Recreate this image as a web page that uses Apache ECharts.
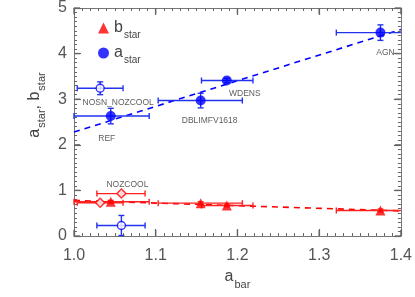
<!DOCTYPE html>
<html><head><meta charset="utf-8">
<script src="https://cdn.jsdelivr.net/npm/echarts@6/dist/echarts.min.js"></script>
<style>html,body{margin:0;padding:0;background:#fff}#c{width:415px;height:297px}</style>
</head><body><div id="c"></div>
<script>
// ---- data ----
const runLabels = ['REF', 'NOSN_NOZCOOL', 'DBLIMFV1618', 'WDENS', 'AGN', 'NOZCOOL'];
const aBar   = [1.045, 1.032, 1.155, 1.187, 1.375, 1.058];
const aBarLo = [1.000, 1.004, 1.103, 1.156, 1.321, 1.028];
const aBarHi = [1.092, 1.060, 1.206, 1.219, 1.429, 1.087];
const aStar    = [2.63, 3.24, 2.97, 3.41, 4.46, 0.23];
const aStarErr = [0.17, 0.14, 0.16, 0.05, 0.17, 0.22];
const bStar    = [0.75, 0.73, 0.72, 0.67, 0.56, 0.93];
const bStarErr = [0.03, 0.03, 0.03, 0.03, 0.03, 0.04];
const filled   = [true, false, true, true, true, false];
const labelOn  = ['a', 'a', 'a', 'a', 'a', 'b'];
const fitX = [1.0, 1.4];
const fitA = [2.28, 4.53];
const fitB = [0.78, 0.55];
const xTicks = [1.0, 1.1, 1.2, 1.3, 1.4];
const yTicks = [0, 1, 2, 3, 4, 5];

const BLUE = '#0000ff', BLUE_E = '#2233ee', RED = '#ff0000', RED_E = '#ff2020';
const AX = '#666';
const labelOffsets = {REF: [-4, 23], NOSN_NOZCOOL: [18, 14], DBLIMFV1618: [9, 20], WDENS: [18, 13], AGN: [5, 20], NOZCOOL: [6, -9]};

function errData(ys, errs) {
  return aBar.map((x, i) => [x, ys[i], aBarLo[i], aBarHi[i], ys[i] - errs[i], ys[i] + errs[i]]);
}
function pts(ys, want) {
  const out = [];
  aBar.forEach((x, i) => { if (filled[i] === want) out.push([x, ys[i]]); });
  return out;
}
function errRender(color) {
  return function (params, api) {
    const cs = params.coordSys;
    const x0 = cs.x, x1 = cs.x + cs.width, y0 = cs.y, y1 = cs.y + cs.height;
    const c = api.coord([api.value(0), api.value(1)]);
    const l = api.coord([api.value(2), api.value(1)])[0];
    const r = api.coord([api.value(3), api.value(1)])[0];
    const lo = api.coord([api.value(0), api.value(4)])[1];
    const hi = api.coord([api.value(0), api.value(5)])[1];
    const cap = 3;
    const st = {stroke: color, lineWidth: 1.4};
    const ch = [];
    const L = Math.max(l, x0), R = Math.min(r, x1);
    ch.push({type: 'line', shape: {x1: L, y1: c[1], x2: R, y2: c[1]}, style: st});
    if (l >= x0) ch.push({type: 'line', shape: {x1: l, y1: c[1] - cap, x2: l, y2: c[1] + cap}, style: st});
    if (r <= x1) ch.push({type: 'line', shape: {x1: r, y1: c[1] - cap, x2: r, y2: c[1] + cap}, style: st});
    const B = Math.min(lo, y1), T = Math.max(hi, y0);
    ch.push({type: 'line', shape: {x1: c[0], y1: B, x2: c[0], y2: T}, style: st});
    if (lo <= y1) ch.push({type: 'line', shape: {x1: c[0] - cap, y1: lo, x2: c[0] + cap, y2: lo}, style: st});
    if (hi >= y0) ch.push({type: 'line', shape: {x1: c[0] - cap, y1: hi, x2: c[0] + cap, y2: hi}, style: st});
    return {type: 'group', children: ch};
  };
}
// major ticks on all four sides, drawn as thin filled rects placed through the axis scales
function tickRender(params, api) {
  const cs = params.coordSys;
  const x0 = cs.x, x1 = cs.x + cs.width, y0 = cs.y, y1 = cs.y + cs.height;
  const len = 6, w = 1.3, st = {fill: AX};
  const p = api.coord([api.value(0), api.value(1)]);
  if (api.value(2) < 0.5) {
    const x = p[0] - w / 2;
    return {type: 'group', children: [
      {type: 'rect', shape: {x: x, y: y1 - len, width: w, height: len}, style: st},
      {type: 'rect', shape: {x: x, y: y0, width: w, height: len}, style: st}]};
  }
  const y = p[1] - w / 2;
  return {type: 'group', children: [
    {type: 'rect', shape: {x: x0, y: y, width: len, height: w}, style: st},
    {type: 'rect', shape: {x: x1 - len, y: y, width: len, height: w}, style: st}]};
}
const tickData = xTicks.map(v => [v, yTicks[0], 0]).concat(yTicks.map(v => [xTicks[0], v, 1]));

const labelData = runLabels.map((n, i) => ({
  value: [aBar[i], labelOn[i] === 'a' ? aStar[i] : bStar[i]],
  label: {offset: labelOffsets[n]}
}));

function ticks() {
  return {
    axisLine: {show: true, onZero: false, lineStyle: {color: '#777', width: 1}},
    axisTick: {show: true, inside: true, length: 7, lineStyle: {color: AX, width: 1.2}},
    minorTick: {show: true, splitNumber: 10, length: 3, lineStyle: {color: AX, width: 1}},
    splitLine: {show: false}, minorSplitLine: {show: false}
  };
}
const sub = {
  m: {fontFamily: 'Liberation Sans', fontSize: 16, color: '#444', verticalAlign: 'bottom'},
  s: {fontFamily: 'Liberation Sans', fontSize: 11, color: '#444', verticalAlign: 'bottom', padding: [0, 0, -5, 1]}
};

const chart = echarts.init(document.getElementById('c'), null, {renderer: 'canvas'});
chart.setOption({
  animation: false,
  backgroundColor: '#fff',
  grid: {left: 74, right: 13, top: 5, height: 231, containLabel: false},
  legend: {
    orient: 'vertical', left: 93, top: 15, itemGap: 5, itemWidth: 11, itemHeight: 11,
    data: [{name: 'b', icon: 'triangle'}, {name: 'a', icon: 'circle'}],
    formatter: n => '{m|' + n + '}{s|star}',
    textStyle: {rich: {
      m: sub.m,
      s: {fontFamily: 'Liberation Sans', fontSize: 10, color: '#444', verticalAlign: 'bottom', padding: [0, 0, -4, 1]}
    }}
  },
  xAxis: [
    Object.assign({type: 'value', min: 1.0, max: 1.4, interval: 0.1,
      name: '{m|a}{s|bar}', nameLocation: 'middle', nameGap: 33,
      nameTextStyle: {rich: sub},
      axisLabel: {margin: 12, fontFamily: 'Liberation Sans', fontSize: 16, color: '#555',
        formatter: v => v.toFixed(1)}
    }, ticks()),
    Object.assign({type: 'value', position: 'top', min: 1.0, max: 1.4, interval: 0.1,
      axisLabel: {show: false}}, ticks())
  ],
  yAxis: [
    Object.assign({type: 'value', min: 0, max: 5, interval: 1,
      name: '{m|a}{s|star}{m|, b}{s|star}', nameLocation: 'middle', nameGap: 17,
      nameTextStyle: {padding: [0, 0, 0, 34], rich: sub},
      axisLabel: {margin: 7, fontFamily: 'Liberation Sans', fontSize: 16, color: '#555'}
    }, ticks()),
    Object.assign({type: 'value', position: 'right', min: 0, max: 5, interval: 1,
      axisLabel: {show: false}}, ticks())
  ],
  series: [
    {type: 'custom', name: 'ticks', data: tickData, renderItem: tickRender, silent: true, z: 10},
    {type: 'line', name: 'fitA', data: fitX.map((x, i) => [x, fitA[i]]), symbol: 'none',
      lineStyle: {color: BLUE, width: 1.6, type: [6, 5]}, z: 2},
    {type: 'line', name: 'fitB', data: fitX.map((x, i) => [x, fitB[i]]), symbol: 'none',
      lineStyle: {color: RED, width: 1.6, type: [6, 5]}, z: 2},
    {type: 'custom', name: 'errA', data: errData(aStar, aStarErr), renderItem: errRender(BLUE_E), z: 3},
    {type: 'custom', name: 'errB', data: errData(bStar, bStarErr), renderItem: errRender(RED_E), z: 3},
    {type: 'scatter', name: 'a', data: pts(aStar, true), symbol: 'circle', symbolSize: 10,
      itemStyle: {color: BLUE}, z: 5},
    {type: 'scatter', name: 'aOpen', data: pts(aStar, false), symbol: 'circle', symbolSize: 8,
      itemStyle: {color: '#fff', borderColor: BLUE, borderWidth: 1.4}, z: 5},
    {type: 'scatter', name: 'b', data: pts(bStar, true), symbol: 'triangle', symbolSize: 10,
      itemStyle: {color: RED}, z: 5},
    {type: 'scatter', name: 'bOpen', data: pts(bStar, false), symbol: 'diamond', symbolSize: 9,
      itemStyle: {color: '#fff', borderColor: RED, borderWidth: 1.4}, z: 5},
    {type: 'scatter', name: 'labels', data: labelData, symbolSize: 0, silent: true, z: 6,
      label: {show: true, position: 'inside', fontFamily: 'Liberation Sans', fontSize: 8.5, color: '#333',
        formatter: p => runLabels[p.dataIndex]}}
  ]
});
</script></body></html>
